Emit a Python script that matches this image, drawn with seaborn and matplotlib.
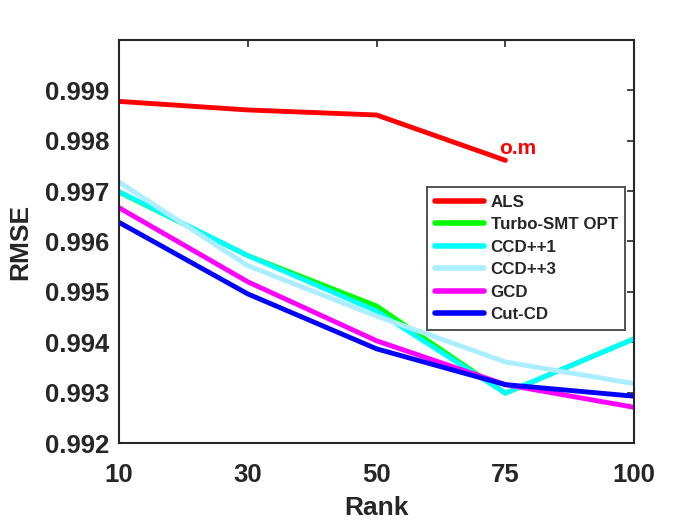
import pandas as pd
import matplotlib
matplotlib.use('Agg')
import matplotlib.pyplot as plt
import seaborn as sns

# data
ranks = ['10', '30', '50', '75', '100']
als = [0.99878, 0.99861, 0.99851, 0.99761]
turbo = [0.99698, 0.99572, 0.99472, 0.99299, 0.99407]
ccd1 = [0.99699, 0.99572, 0.99462, 0.99299, 0.99407]
ccd3 = [0.99718, 0.99552, 0.99452, 0.99361, 0.99318]
gcd = [0.99667, 0.99520, 0.99403, 0.99316, 0.99271]
cutcd = [0.99638, 0.99496, 0.99387, 0.99316, 0.99293]

methods = ['ALS', 'Turbo-SMT OPT', 'CCD++1', 'CCD++3', 'GCD', 'Cut-CD']
series = [als, turbo, ccd1, ccd3, gcd, cutcd]
colors = ['#ff0000', '#00ff00', '#00ffff', '#aaeeff', '#ff00ff', '#0000ff']

rows = []
for m, vals in zip(methods, series):
    for r, v in zip(ranks, vals):
        rows.append({'Rank': r, 'RMSE': v, 'method': m})
df = pd.DataFrame(rows)

sns.set_style('white')
plt.rcParams['font.family'] = ['Liberation Sans', 'DejaVu Sans']
plt.rcParams['font.weight'] = 'bold'

fig, ax = plt.subplots(figsize=(7, 5.25), dpi=100)
fig.subplots_adjust(left=0.17, right=0.906, bottom=0.156, top=0.924)

sns.lineplot(data=df, x='Rank', y='RMSE', hue='method', hue_order=methods,
             palette=dict(zip(methods, colors)), linewidth=3.5, sort=False, ax=ax)

ax.set_xlim(0, len(ranks) - 1)
ax.set_ylim(0.992, 1.0)
ax.set_yticks([0.992, 0.993, 0.994, 0.995, 0.996, 0.997, 0.998, 0.999])
ax.set_yticklabels(['0.992', '0.993', '0.994', '0.995', '0.996', '0.997', '0.998', '0.999'])

ax.tick_params(direction='in', length=5, width=1.2, top=True, right=True,
               labelsize=18.5, colors='#262626')
ax.tick_params(axis='x', pad=14)
ax.tick_params(axis='y', pad=7)
for lab in ax.get_xticklabels() + ax.get_yticklabels():
    lab.set_fontweight('bold')
for sp in ax.spines.values():
    sp.set_color('#262626')
    sp.set_linewidth(1.5)

ax.set_xlabel('Rank', fontsize=19, fontweight='bold', color='#262626', labelpad=7)
ax.set_ylabel('RMSE', fontsize=19, fontweight='bold', color='#262626', labelpad=9)

ax.text(2.953, 0.99774, 'o.m', color='#ff0000', fontsize=15, fontweight='bold',
        va='baseline')

leg = ax.legend(loc='upper right', bbox_to_anchor=(0.983, 0.635),
                prop={'weight': 'bold', 'size': 12.2}, handlelength=2.9,
                frameon=True, fancybox=False, edgecolor='#262626',
                borderpad=0.45, labelspacing=0.44, handletextpad=0.4, borderaxespad=0)
leg.get_frame().set_linewidth(1.4)
for line in leg.get_lines():
    line.set_linewidth(4)

fig.savefig('out.png', dpi=100)
